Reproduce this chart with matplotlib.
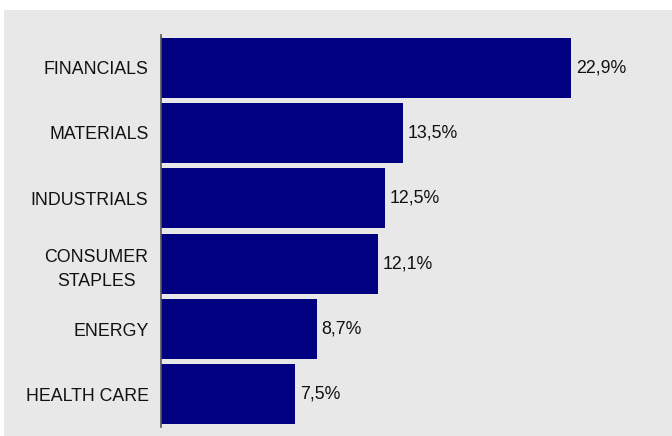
import matplotlib
matplotlib.use("Agg")
import matplotlib.pyplot as plt
from matplotlib.patches import Rectangle

plt.rcParams['font.family'] = ['Liberation Sans', 'DejaVu Sans']

# sector weights, top to bottom
sectors = ["FINANCIALS", "MATERIALS", "INDUSTRIALS", "CONSUMER\nSTAPLES", "ENERGY", "HEALTH CARE"]
weights = [22.9, 13.5, 12.5, 12.1, 8.7, 7.5]

BAR_COLOR = "#000080"
BG_COLOR = "#E8E8E8"
FS = 12.8

fig = plt.figure(figsize=(6.72, 4.36), dpi=100)
fig.patch.set_facecolor("white")

# grey panel behind the chart (white strip at top and left)
fig.patches.append(Rectangle((4 / 672, 0), 1, 1 - 10 / 436, transform=fig.transFigure,
                             facecolor=BG_COLOR, edgecolor="none", zorder=-10))

ax = fig.add_axes([161 / 672, 9 / 436, 1 - 161 / 672, 392 / 436])
ax.set_facecolor("none")

pos = list(range(len(sectors)))
ax.barh(pos, weights, height=0.92, color=BAR_COLOR)
ax.set_ylim(len(sectors) - 0.5, -0.5)
ax.set_xlim(0, 28.55)

for p, w in zip(pos, weights):
    ax.annotate(f"{w:.1f}%".replace(".", ","), xy=(w, p), xytext=(3.5, 0),
                textcoords="offset points", va="center", ha="left", fontsize=FS, color="#111111")

ax.set_yticks(pos)
ax.set_yticklabels(sectors, fontsize=FS, color="#111111", multialignment="center", linespacing=1.55)
ax.tick_params(axis="y", length=0, pad=9)
ax.set_xticks([])

for s in ["top", "right", "bottom"]:
    ax.spines[s].set_visible(False)
ax.spines["left"].set_color("#555555")
ax.spines["left"].set_linewidth(1.2)

fig.savefig("out.png", dpi=100, facecolor=fig.get_facecolor())
